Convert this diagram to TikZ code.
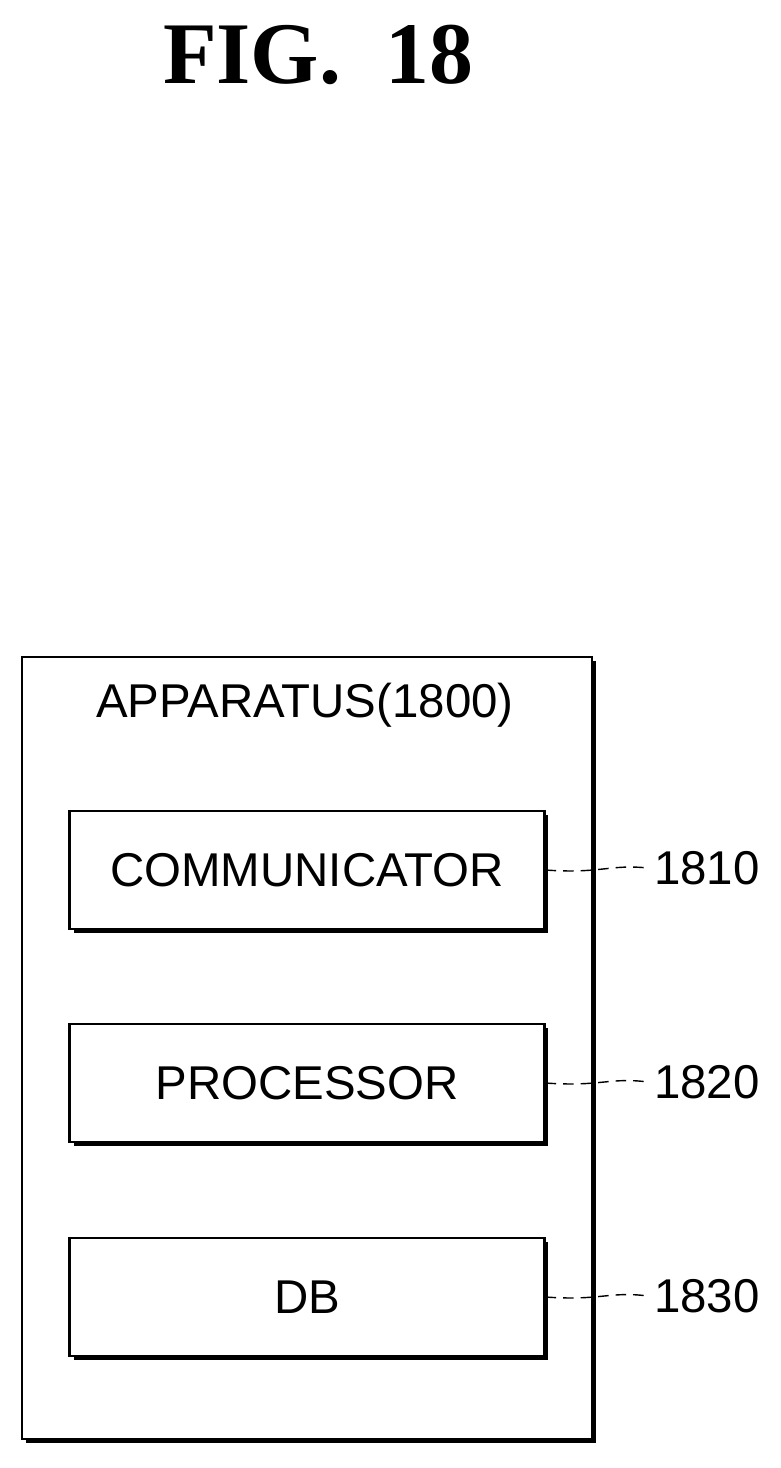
\documentclass[tikz,border=0pt]{standalone}
\usepackage{fontspec}
\setmainfont{Liberation Serif}
\setsansfont{Liberation Sans}
\usetikzlibrary{shadows,decorations.pathmorphing}
\tikzstyle{frame} = [rectangle, draw, line width=1.2pt, fill=white, drop shadow={shadow xshift=0.08cm, shadow yshift=-0.08cm, fill=black, opacity=1}]
\tikzstyle{block} = [frame, minimum width=9.5cm, minimum height=2.36cm, font=\sffamily\fontsize{27}{30}\selectfont]
\tikzstyle{tag} = [font=\sffamily\fontsize{27}{30}\selectfont, anchor=west]
\tikzstyle{leader} = [draw, line width=0.8pt, dashed, dash pattern=on 6pt off 4pt]

\begin{document}
\begin{tikzpicture}[x=0.02cm, y=-0.02cm]
    \useasboundingbox (0,0) rectangle (781,1468);
    \node [font=\bfseries\fontsize{50}{54}\selectfont] (title) at (318,55) {FIG.\ \ 18};

    \node [frame, minimum width=11.4cm, minimum height=15.66cm] (apparatus) at (307,1048) {};
    \node [font=\sffamily\fontsize{27}{30}\selectfont] (apparatus_label) at (305,705) {APPARATUS(1800)};

    \node [block] (communicator) at (307,870) {COMMUNICATOR};
    \node [block] (processor) at (307,1083) {PROCESSOR};
    \node [block] (db) at (307,1297) {DB};

    \node [tag] (n1810) at (648,868) {1810};
    \node [tag] (n1820) at (648,1082) {1820};
    \node [tag] (n1830) at (648,1296) {1830};

    \path [leader] (communicator.east) .. controls (600,874) and (610,864) .. (n1810.west);
    \path [leader] (processor.east) .. controls (600,1087) and (610,1077) .. (n1820.west);
    \path [leader] (db.east) .. controls (600,1301) and (610,1291) .. (n1830.west);
\end{tikzpicture}
\end{document}
